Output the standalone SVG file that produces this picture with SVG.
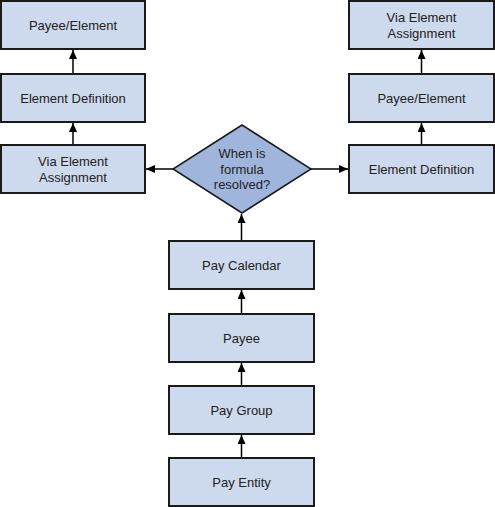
<svg xmlns="http://www.w3.org/2000/svg" width="495" height="507" viewBox="0 0 495 507">
<style>
.box{fill:#CDD9EC;stroke:#1a1a1a;stroke-width:2}
.dia{fill:#A0B5DC;stroke:#1a1a1a;stroke-width:1.5}
.t{font-family:"Liberation Sans",Arial,sans-serif;font-size:13px;fill:#222;text-anchor:middle}
.c{stroke:#000;stroke-width:1.5;fill:none;marker-end:url(#ah)}
</style>
<defs>
<marker id="ah" markerWidth="10" markerHeight="10" refX="9" refY="4" orient="auto" markerUnits="userSpaceOnUse">
<path d="M0,0 L9,4 L0,8 Z" fill="#000"/>
</marker>
</defs>
<rect width="495" height="507" fill="#fff"/>
<g id="connectors">
<line class="c" x1="73" y1="74" x2="73" y2="50"/>
<line class="c" x1="73" y1="145" x2="73" y2="123"/>
<line class="c" x1="173" y1="169" x2="146" y2="169"/>
<line class="c" x1="311" y1="169" x2="348" y2="169"/>
<line class="c" x1="421.5" y1="145" x2="421.5" y2="123"/>
<line class="c" x1="421.5" y1="74" x2="421.5" y2="50"/>
<line class="c" x1="241.5" y1="241" x2="241.5" y2="214"/>
<line class="c" x1="241.5" y1="314" x2="241.5" y2="290"/>
<line class="c" x1="241.5" y1="386" x2="241.5" y2="363"/>
<line class="c" x1="241.5" y1="458" x2="241.5" y2="435"/>
</g>
<g id="l-payee-element"><rect class="box" x="1" y="1" width="144" height="48"/><text class="t" x="73" y="29.5">Payee/Element</text></g>
<g id="l-element-definition"><rect class="box" x="1" y="74" width="144" height="48"/><text class="t" x="73" y="102.5">Element Definition</text></g>
<g id="l-via-element-assignment"><rect class="box" x="1" y="145" width="144" height="48"/><text class="t" x="73" y="165.5">Via Element</text><text class="t" x="73" y="181.5">Assignment</text></g>
<g id="decision"><polygon class="dia" points="242,125 311,169 242,213 173,169"/><text class="t" x="242" y="157.5">When is</text><text class="t" x="242" y="173.5">formula</text><text class="t" x="242" y="189">resolved?</text></g>
<g id="r-via-element-assignment"><rect class="box" x="349" y="1" width="145" height="48"/><text class="t" x="421.5" y="21.5">Via Element</text><text class="t" x="421.5" y="37.5">Assignment</text></g>
<g id="r-payee-element"><rect class="box" x="349" y="74" width="145" height="48"/><text class="t" x="421.5" y="102.5">Payee/Element</text></g>
<g id="r-element-definition"><rect class="box" x="349" y="145" width="145" height="48"/><text class="t" x="421.5" y="173.5">Element Definition</text></g>
<g id="pay-calendar"><rect class="box" x="169" y="241" width="145" height="48"/><text class="t" x="241.5" y="269.5">Pay Calendar</text></g>
<g id="payee"><rect class="box" x="169" y="314" width="145" height="48"/><text class="t" x="241.5" y="342.5">Payee</text></g>
<g id="pay-group"><rect class="box" x="169" y="386" width="145" height="48"/><text class="t" x="241.5" y="414.5">Pay Group</text></g>
<g id="pay-entity"><rect class="box" x="169" y="458" width="145" height="48"/><text class="t" x="241.5" y="486.5">Pay Entity</text></g>
</svg>
